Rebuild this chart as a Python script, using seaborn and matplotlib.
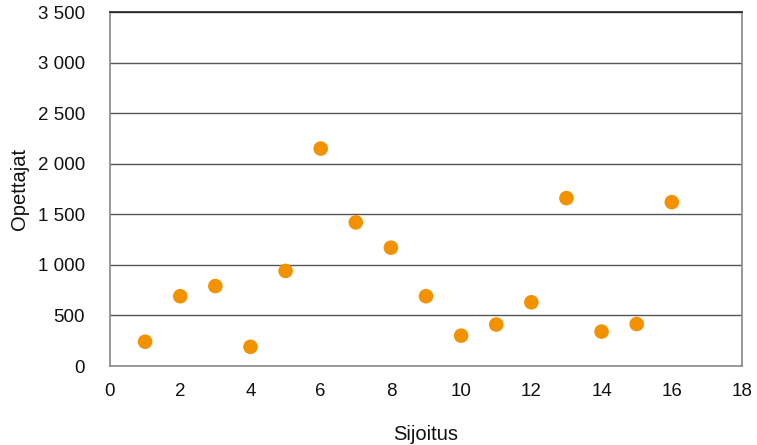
import matplotlib
matplotlib.use("Agg")
import matplotlib.pyplot as plt
import matplotlib.ticker as mticker
import seaborn as sns
import pandas as pd

# Data
sijoitus = [1, 2, 3, 4, 5, 6, 7, 8, 9, 10, 11, 12, 13, 14, 15, 16]
opettajat = [240, 690, 790, 190, 940, 2150, 1420, 1170, 690, 300, 410, 630, 1660, 340, 415, 1620]

df = pd.DataFrame({"Sijoitus": sijoitus, "Opettajat": opettajat})

sns.set_style("white")
plt.rcParams["font.family"] = ["Liberation Sans", "DejaVu Sans"]

fig = plt.figure(figsize=(7.57, 4.45), dpi=100)
ax = fig.add_axes([0.1453, 0.1775, 0.8349, 0.7955])

sns.scatterplot(data=df, x="Sijoitus", y="Opettajat", color="#F39200",
                s=110, edgecolor="none", ax=ax, zorder=3)

ax.set_xlim(0, 18)
ax.set_ylim(0, 3500)
ax.set_xticks(range(0, 19, 2))
ax.set_yticks(range(0, 3501, 500))
ax.yaxis.set_major_formatter(
    mticker.FuncFormatter(lambda v, p: f"{int(v):,}".replace(",", " ")))
ax.tick_params(axis="both", length=0, labelsize=13.5, colors="#111111")
ax.tick_params(axis="x", pad=12)
ax.tick_params(axis="y", pad=18)

ax.yaxis.grid(True, color="#555555", linewidth=1)
ax.xaxis.grid(False)
for side in ["left", "right", "bottom"]:
    ax.spines[side].set_color("#888888")
    ax.spines[side].set_linewidth(1.2)
ax.spines["top"].set_color("#222222")
ax.spines["top"].set_linewidth(1.2)

ax.set_xlabel("Sijoitus", fontsize=14.5, labelpad=18, color="#111111")
ax.set_ylabel("Opettajat", fontsize=14.5, labelpad=6, color="#111111")

fig.savefig("out.png", dpi=100)
